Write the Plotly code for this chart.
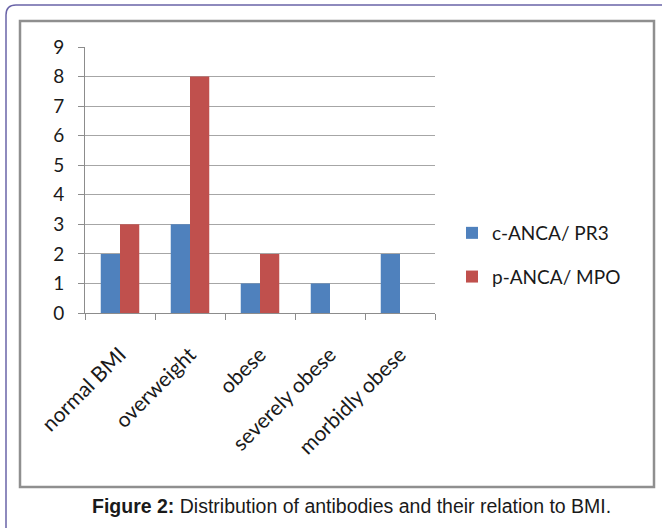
import plotly.graph_objects as go

categories = ["normal BMI", "overweight", "obese", "severely obese", "morbidly obese"]
c_anca = [2, 3, 1, 1, 2]
p_anca = [3, 8, 2, 0, 0]
series_names = ["c-ANCA/ PR3", "p-ANCA/ MPO"]
y_ticks = list(range(0, 10))

W, H = 662, 529
L, R, T, B = 85, 435, 47, 313


def px(x):
    return (x - L) / (R - L)


def py(y):
    return (B - y) / (B - T)


FONT = "Lato"
fig = go.Figure()
fig.add_trace(go.Bar(x=categories, y=c_anca, name=series_names[0],
                     marker=dict(color="#4f81bd", line=dict(width=0)),
                     legendgroup="a"))
fig.add_trace(go.Bar(x=categories, y=p_anca, name=series_names[1],
                     marker=dict(color="#c0504d", line=dict(width=0)),
                     legendgroup="b"))

shapes = [
    # inner chart frame
    dict(type="rect", xref="paper", yref="paper",
         x0=px(20), x1=px(654), y0=py(487), y1=py(21),
         line=dict(color="#8f8f8f", width=2.5), layer="below"),
    # outer rounded border (top + left)
    dict(type="path", xref="paper", yref="paper",
         path=f"M {px(6)},{py(528)} L {px(6)},{py(15)} Q {px(6)},{py(5)} {px(16)},{py(5)} L {px(662)},{py(5)}",
         line=dict(color="#6a64a8", width=1.5)),
]

fig.update_layout(
    width=W, height=H,
    margin=dict(l=L, r=W - R, t=T, b=H - B, autoexpand=False),
    paper_bgcolor="white", plot_bgcolor="white",
    barmode="group", bargap=0.45, bargroupgap=0,
    font=dict(family=FONT, size=19, color="#1a1a1a"),
    showlegend=True,
    legend=dict(xref="container", yref="container", x=452 / W, y=1 - 255 / H,
                xanchor="left", yanchor="middle", traceorder="grouped",
                tracegroupgap=16, font=dict(family=FONT, size=19, color="#1a1a1a"),
                bgcolor="rgba(0,0,0,0)"),
    xaxis=dict(type="category", showline=True, linecolor="#8c8c8c", linewidth=1,
               ticks="outside", tickson="boundaries", ticklen=6, tickcolor="#8c8c8c",
               tickangle=-45, showgrid=False, fixedrange=True,
               ticklabelstandoff=20,
               tickfont=dict(family=FONT, size=21, color="#1a1a1a")),
    yaxis=dict(range=[0, 9], tickvals=y_ticks, showline=True, linecolor="#8c8c8c",
               linewidth=1, ticks="outside", ticklen=6, tickcolor="#8c8c8c",
               showgrid=True, gridcolor="#a6a6a6", gridwidth=1, zeroline=False,
               ticklabelstandoff=10, fixedrange=True,
               tickfont=dict(family=FONT, size=19, color="#1a1a1a")),
    shapes=shapes,
    annotations=[dict(xref="paper", yref="paper", x=px(351), y=py(506),
                      xanchor="center", yanchor="middle", showarrow=False,
                      text="<b>Figure 2:</b> Distribution of antibodies and their relation to BMI.",
                      font=dict(family="Liberation Sans", size=19.5, color="#1a1a1a"))],
)

fig.write_html("out.html", config={"displayModeBar": False},
               post_script="document.body.style.margin='0px';document.body.style.overflow='hidden';")
